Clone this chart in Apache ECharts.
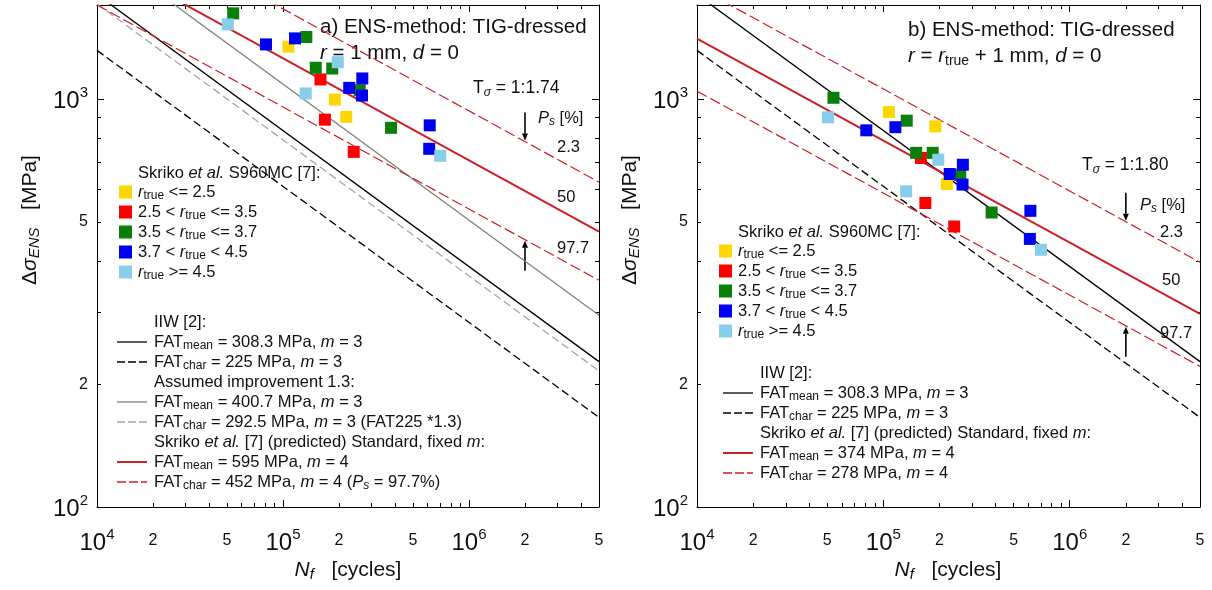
<!DOCTYPE html>
<html>
<head>
<meta charset="utf-8">
<script src="https://cdn.jsdelivr.net/npm/echarts@6/dist/echarts.min.js"></script>
<style>
  html, body { margin: 0; padding: 0; background: #ffffff; }
  #chart { width: 1212px; height: 590px; }
</style>
</head>
<body>
<div id="chart"></div>
<script>
// ---- Fatigue test data: lives N_f [cycles], grouped by measured weld toe radius r_true ----
const nYellow    = [1.07e5, 1.90e5, 2.19e5];
const nRed       = [1.59e5, 1.68e5, 2.40e5];
const nGreen     = [5.4e4, 1.335e5, 1.50e5, 1.84e5, 2.585e5, 3.81e5];
const nBlue      = [8.1e4, 1.16e5, 2.67e5, 2.27e5, 2.66e5, 6.15e5, 6.11e5];
const nLightBlue = [5.05e4, 1.97e5, 1.325e5, 7.01e5];

// Effective notch stress ranges [MPa] with r = 1 mm
const sYellowA    = [1344, 997, 904];
const sRedA       = [1117, 890, 742];
const sGreenA     = [1622, 1419, 1193, 1188, 1051, 850];
const sBlueA      = [1361, 1408, 1123, 1065, 1020, 862, 755];
const sLightBlueA = [1524, 1231, 1032, 726];

// Effective notch stress ranges [MPa] with r = r_true + 1 mm
const sYellowB    = [930, 857, 619];
const sRedB       = [717, 556, 487];
const sGreenB     = [1007, 885, 738, 738, 652, 527];
const sBlueB      = [838, 853, 690, 655, 617, 532, 454];
const sLightBlueB = [902, 710, 594, 427];

// ---- S-N curve parameters (FAT at 2e6 cycles) ----
const nRef = 2e6;
const iiwFat      = [308.3, 225];   // mean, characteristic; m = 3
const improvedFat = [400.7, 292.5]; // mean, characteristic; m = 3
const skrikoFatA  = [595, 452];     // mean, characteristic; m = 4
const skrikoFatB  = [374, 278];     // mean, characteristic; m = 4
const tSigma      = [1.74, 1.80];   // scatter band 1:T_sigma

// ---- Axis ranges and tick labels ----
const nRange = [1e4, 5e6];
const sRange = [100, 1700];
const xTickLabels = [1e4, 2e4, 5e4, 1e5, 2e5, 5e5, 1e6, 2e6, 5e6];
const yTickLabels = [100, 200, 500, 1000];
const xMajorTicks = [1e4, 1e5, 1e6];
const xMinorTicks = [2e4, 3e4, 4e4, 5e4, 6e4, 7e4, 8e4, 9e4,
                     2e5, 3e5, 4e5, 5e5, 6e5, 7e5, 8e5, 9e5,
                     2e6, 3e6, 4e6, 5e6];
const yMajorTicks = [100, 1000];
const yMinorTicks = [200, 300, 400, 500, 600, 700, 800, 900];

const FONT = '"Liberation Sans", Arial, Helvetica, sans-serif';
const INK = '#111111';
const RED_CURVE = '#CC1F26';
const classColors = ['#FFD700', '#FF0000', '#0A7F0A', '#0000F0', '#87CEEB'];
const LEGEND_SIZE = 16.5;

function snValue(fat, m, n) { return fat * Math.pow(nRef / n, 1 / m); }
function snData(fat, m) { return nRange.map(n => [n, snValue(fat, m, n)]); }
const lg = v => Math.log10(v);

// ---- Axes: log axes carry the data, exponent-space axes draw ticks & labels ----
const labelRich = {
  b: { fontFamily: FONT, fontSize: 24, lineHeight: 28, verticalAlign: 'bottom', color: INK },
  s: { fontFamily: FONT, fontSize: 15, lineHeight: 15, verticalAlign: 'top', color: INK },
  m: { fontFamily: FONT, fontSize: 16, lineHeight: 28, color: INK }
};
function expLabel(v) {
  const e = Math.floor(v + 1e-9);
  const mant = Math.round(Math.pow(10, v - e));
  return mant === 1 ? '{b|10}{s|' + e + '}' : '{m|' + mant + '}';
}
function expAxis(g, pos, min, max, ticks, labels, len, showLine, margin) {
  return {
    type: 'value', gridIndex: g, position: pos, min: min, max: max,
    axisLine: { show: showLine, onZero: false, lineStyle: { color: '#000', width: 1 } },
    axisTick: { show: true, inside: true, length: len, customValues: ticks.map(lg),
                lineStyle: { color: '#000', width: 1 } },
    axisLabel: labels ? { show: true, customValues: labels.map(lg), formatter: expLabel,
                          rich: labelRich, margin: margin } : { show: false },
    splitLine: { show: false }
  };
}
const xAxes = [], yAxes = [];
function addPanelAxes(g) {
  const ix = xAxes.length, iy = yAxes.length;
  xAxes.push({ type: 'log', logBase: 10, gridIndex: g, position: 'bottom', min: nRange[0], max: nRange[1],
    axisLine: { show: true, onZero: false, lineStyle: { color: '#000', width: 1 } },
    axisTick: { show: false }, axisLabel: { show: false }, splitLine: { show: false } });
  yAxes.push({ type: 'log', logBase: 10, gridIndex: g, position: 'left', min: sRange[0], max: sRange[1],
    axisLine: { show: true, onZero: false, lineStyle: { color: '#000', width: 1 } },
    axisTick: { show: false }, axisLabel: { show: false }, splitLine: { show: false } });
  const x0 = lg(nRange[0]), x1 = lg(nRange[1]), y0 = lg(sRange[0]), y1 = lg(sRange[1]);
  xAxes.push(expAxis(g, 'bottom', x0, x1, xMajorTicks, xTickLabels, 7, false, 20));
  xAxes.push(expAxis(g, 'bottom', x0, x1, xMinorTicks, null, 4, false));
  xAxes.push(expAxis(g, 'top', x0, x1, xMajorTicks, null, 7, true));
  xAxes.push(expAxis(g, 'top', x0, x1, xMinorTicks, null, 4, false));
  yAxes.push(expAxis(g, 'left', y0, y1, yMajorTicks, yTickLabels, 7, false, 9));
  yAxes.push(expAxis(g, 'left', y0, y1, yMinorTicks, null, 4, false));
  yAxes.push(expAxis(g, 'right', y0, y1, yMajorTicks, null, 7, true));
  yAxes.push(expAxis(g, 'right', y0, y1, yMinorTicks, null, 4, false));
  return { ix: ix, iy: iy };
}
const axA = addPanelAxes(0);
const axB = addPanelAxes(1);

// ---- Series ----
const series = [];
function curve(ax, fat, m, color, width, dash) {
  series.push({ type: 'line', xAxisIndex: ax.ix, yAxisIndex: ax.iy, data: snData(fat, m),
    symbol: 'none', silent: true, clip: true, z: 2,
    lineStyle: { color: color, width: width, type: dash ? dash : 'solid' } });
}
function points(ax, nArr, sArr, color) {
  series.push({ type: 'scatter', xAxisIndex: ax.ix, yAxisIndex: ax.iy,
    data: nArr.map((n, i) => [n, sArr[i]]), symbol: 'rect', symbolSize: 12, clip: true, z: 3,
    itemStyle: { color: color, opacity: 1 }, silent: true });
}
// panel a
curve(axA, iiwFat[0], 3, '#000000', 1.3);
curve(axA, iiwFat[1], 3, '#000000', 1.3, [8, 4]);
curve(axA, improvedFat[0], 3, '#808080', 1.3);
curve(axA, improvedFat[1], 3, '#A6A6A6', 1.3, [8, 4]);
curve(axA, skrikoFatA[0], 4, RED_CURVE, 2);
curve(axA, skrikoFatA[1], 4, RED_CURVE, 1.2, [11, 4]);
curve(axA, skrikoFatA[1] * tSigma[0], 4, RED_CURVE, 1.2, [11, 4]);
points(axA, nYellow, sYellowA, classColors[0]);
points(axA, nRed, sRedA, classColors[1]);
points(axA, nGreen, sGreenA, classColors[2]);
points(axA, nBlue, sBlueA, classColors[3]);
points(axA, nLightBlue, sLightBlueA, classColors[4]);
// panel b
curve(axB, iiwFat[0], 3, '#000000', 1.3);
curve(axB, iiwFat[1], 3, '#000000', 1.3, [8, 4]);
curve(axB, skrikoFatB[0], 4, RED_CURVE, 2);
curve(axB, skrikoFatB[1], 4, RED_CURVE, 1.2, [11, 4]);
curve(axB, skrikoFatB[1] * tSigma[1], 4, RED_CURVE, 1.2, [11, 4]);
points(axB, nYellow, sYellowB, classColors[0]);
points(axB, nRed, sRedB, classColors[1]);
points(axB, nGreen, sGreenB, classColors[2]);
points(axB, nBlue, sBlueB, classColors[3]);
points(axB, nLightBlue, sLightBlueB, classColors[4]);

const chart = echarts.init(document.getElementById('chart'), null, { renderer: 'canvas' });
chart.setOption({
  animation: false,
  backgroundColor: '#ffffff',
  grid: [
    { left: 97, top: 5, width: 502, height: 502 },
    { left: 697, top: 5, width: 503, height: 502 }
  ],
  xAxis: xAxes,
  yAxis: yAxes,
  series: series
});

// ---- Text, legends and arrows ----
function rich(size) {
  const sub = Math.round(size * 0.7);
  return {
    n: { fontFamily: FONT, fontSize: size, lineHeight: size + 3, fill: INK },
    i: { fontFamily: FONT, fontSize: size, fontStyle: 'italic', lineHeight: size + 3, fill: INK },
    sub: { fontFamily: FONT, fontSize: sub, lineHeight: sub, verticalAlign: 'bottom', fill: INK },
    isub: { fontFamily: FONT, fontSize: sub, fontStyle: 'italic', lineHeight: sub, verticalAlign: 'bottom', fill: INK }
  };
}
function txt(x, y, text, size, extra) {
  return { type: 'text', x: x, y: y, silent: true,
    style: Object.assign({ text: text, fontFamily: FONT, fontSize: size, fill: INK,
      align: 'left', verticalAlign: 'middle', rich: rich(size) }, extra || {}) };
}
function swatch(x, y, color) {
  return { type: 'rect', silent: true, shape: { x: x, y: y - 6.5, width: 13, height: 13 }, style: { fill: color } };
}
function sample(x, y, color, dash, width) {
  return { type: 'line', silent: true, shape: { x1: x, y1: y, x2: x + 30, y2: y },
    style: { stroke: color, lineWidth: width || 1.3, lineDash: dash || null } };
}
function arrow(x, yTip, length, down) {
  const d = down ? 1 : -1, head = 7, half = 3;
  const yTail = yTip - d * length;
  return [
    { type: 'line', silent: true, shape: { x1: x, y1: yTail, x2: x, y2: yTip - d * head },
      style: { stroke: '#000', lineWidth: 1.6 } },
    { type: 'polygon', silent: true,
      shape: { points: [[x - half, yTip - d * head], [x + half, yTip - d * head], [x, yTip]] },
      style: { fill: '#000' } }
  ];
}
const classLabels = [
  '{i|r}{sub|true}{n| <= 2.5}',
  '{n|2.5 < }{i|r}{sub|true}{n| <= 3.5}',
  '{n|3.5 < }{i|r}{sub|true}{n| <= 3.7}',
  '{n|3.7 < }{i|r}{sub|true}{n| < 4.5}',
  '{i|r}{sub|true}{n| >= 4.5}'
];
function classLegend(x, y) {
  const out = [txt(x + 19, y, '{n|Skriko }{i|et al.}{n| S960MC [7]:}', LEGEND_SIZE)];
  classLabels.forEach((lab, k) => {
    out.push(swatch(x, y + 19 + 20 * k, classColors[k]));
    out.push(txt(x + 19, y + 19 + 20 * k, lab, LEGEND_SIZE));
  });
  return out;
}
function curveLegend(x, y, rows) {
  const out = [];
  rows.forEach((r, k) => {
    const yy = y + 20 * k;
    if (r.color) out.push(sample(x, yy, r.color, r.dash, r.width));
    out.push(txt(x + 37, yy, r.text, LEGEND_SIZE));
  });
  return out;
}
function annotation(x, y, ts, ps, nums) {
  return [
    txt(x, y, '{n|T}{isub|σ}{n| = 1:' + ts.toFixed(2) + '}', 17.5),
    txt(ps[0], ps[1], '{i|P}{isub|s}{n| [%]}', 16.5),
    txt(nums[0][0], nums[0][1], '2.3', 16.5),
    txt(nums[1][0], nums[1][1], '50', 16.5),
    txt(nums[2][0], nums[2][1], '97.7', 16.5)
  ];
}

function buildGraphics() {
  const g = [];
  // panel a
  g.push(txt(320, 27, 'a) ENS-method: TIG-dressed', 20.5));
  g.push(txt(320, 53, '{i|r}{n| = 1 mm, }{i|d}{n| = 0}', 20.5));
  g.push(...annotation(473, 88, tSigma[0], [538, 118], [[557, 147], [557, 197], [557, 248]]));
  g.push(...classLegend(119, 173));
  g.push(...curveLegend(117, 322, [
    { text: 'IIW [2]:' },
    { text: '{n|FAT}{sub|mean}{n| = ' + iiwFat[0] + ' MPa, }{i|m}{n| = 3}', color: '#000' },
    { text: '{n|FAT}{sub|char}{n| = ' + iiwFat[1] + ' MPa, }{i|m}{n| = 3}', color: '#000', dash: [8, 3] },
    { text: 'Assumed improvement 1.3:' },
    { text: '{n|FAT}{sub|mean}{n| = ' + improvedFat[0] + ' MPa, }{i|m}{n| = 3}', color: '#808080' },
    { text: '{n|FAT}{sub|char}{n| = ' + improvedFat[1] + ' MPa, }{i|m}{n| = 3 (FAT225 *1.3)}', color: '#A6A6A6', dash: [8, 3] },
    { text: '{n|Skriko }{i|et al.}{n| [7] (predicted) Standard, fixed }{i|m}{n|:}' },
    { text: '{n|FAT}{sub|mean}{n| = ' + skrikoFatA[0] + ' MPa, }{i|m}{n| = 4}', color: RED_CURVE, width: 2 },
    { text: '{n|FAT}{sub|char}{n| = ' + skrikoFatA[1] + ' MPa, }{i|m}{n| = 4 (}{i|P}{isub|s}{n| = 97.7%)}', color: RED_CURVE, dash: [9, 3] }
  ]));
  // panel b
  g.push(txt(908, 30, 'b) ENS-method: TIG-dressed', 20.5));
  g.push(txt(908, 56, '{i|r}{n| = }{i|r}{sub|true}{n| + 1 mm, }{i|d}{n| = 0}', 20.5));
  g.push(...annotation(1082, 165, tSigma[1], [1140, 205], [[1160, 232], [1162, 280], [1160, 333]]));
  g.push(...classLegend(719, 232));
  g.push(...curveLegend(723, 373, [
    { text: 'IIW [2]:' },
    { text: '{n|FAT}{sub|mean}{n| = ' + iiwFat[0] + ' MPa, }{i|m}{n| = 3}', color: '#000' },
    { text: '{n|FAT}{sub|char}{n| = ' + iiwFat[1] + ' MPa, }{i|m}{n| = 3}', color: '#000', dash: [8, 3] },
    { text: '{n|Skriko }{i|et al.}{n| [7] (predicted) Standard, fixed }{i|m}{n|:}' },
    { text: '{n|FAT}{sub|mean}{n| = ' + skrikoFatB[0] + ' MPa, }{i|m}{n| = 4}', color: RED_CURVE, width: 2 },
    { text: '{n|FAT}{sub|char}{n| = ' + skrikoFatB[1] + ' MPa, }{i|m}{n| = 4}', color: RED_CURVE, dash: [9, 3] }
  ]));
  // axis titles
  [[348, 30], [948, 630]].forEach(([xc, yl]) => {
    g.push(txt(xc, 570, '{i|N}{isub|f}{n|   [cycles]}', 21, { align: 'center' }));
    const t = txt(yl, 220, '{n|Δ}{i|σ}{isub|ENS}{n|   [MPa]}', 21, { align: 'center' });
    t.rotation = Math.PI / 2;
    g.push(t);
  });
  // P_s arrows pointing at the scatter-band limits at 2e6 cycles
  const pa = [
    [axA, skrikoFatA[1] * tSigma[0], true], [axA, skrikoFatA[1], false],
    [axB, skrikoFatB[1] * tSigma[1], true], [axB, skrikoFatB[1], false]
  ];
  pa.forEach(([ax, fat, down]) => {
    const p = chart.convertToPixel({ xAxisIndex: ax.ix, yAxisIndex: ax.iy }, [nRef, snValue(fat, 4, nRef)]);
    g.push(...arrow(p[0], p[1] + (down ? -1 : 1), down ? 28 : 30, down));
  });
  return g;
}
chart.setOption({ graphic: buildGraphics() });
</script>
</body>
</html>
